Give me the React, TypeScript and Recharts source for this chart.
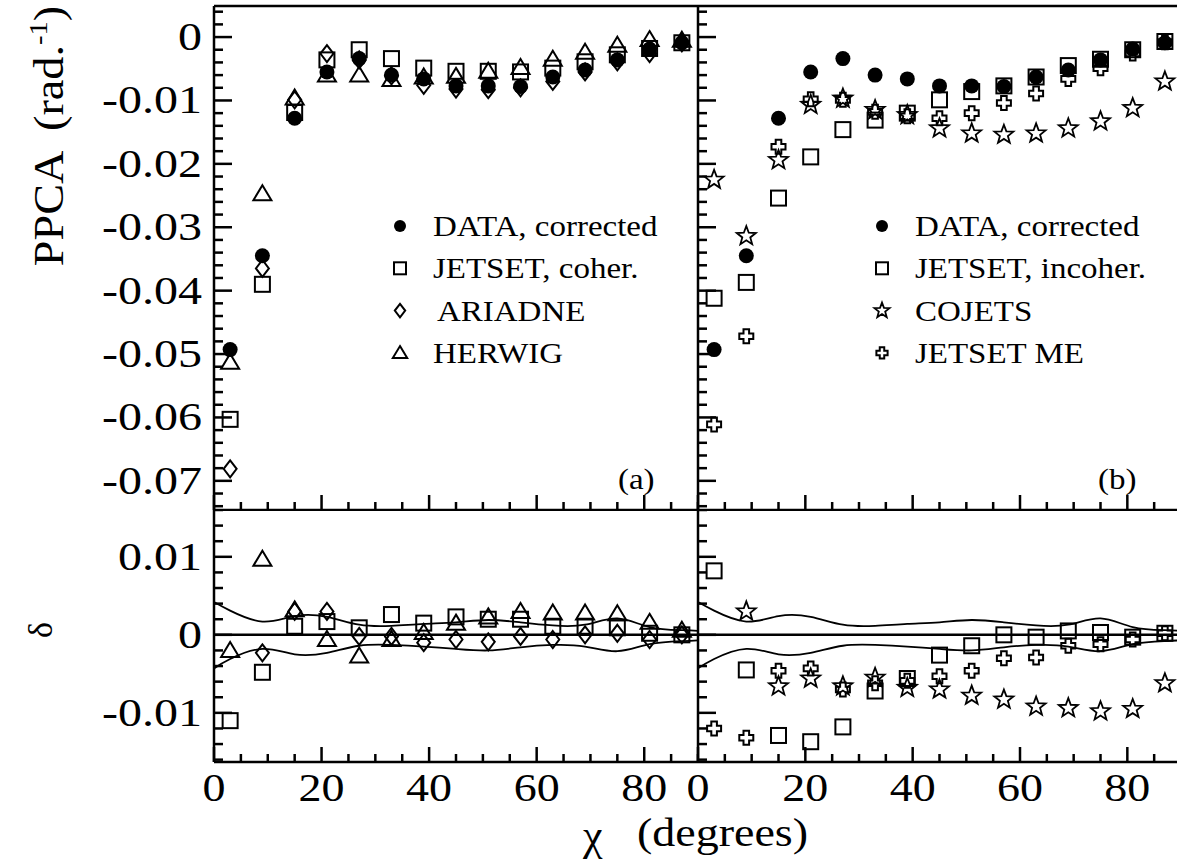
import React from "react";
import { ComposedChart, Scatter, Line, XAxis, YAxis, ReferenceLine, Legend } from "recharts";

// bin centres (degrees)
const chi = [3, 9, 15, 21, 27, 33, 39, 45, 51, 57, 63, 69, 75, 81, 87];

// PPCA values
const dataCorrected = [-0.0493, -0.0345, -0.0128, -0.0055, -0.0034, -0.006, -0.0066, -0.0077, -0.0077, -0.0078, -0.0063, -0.0052, -0.0036, -0.0019, -0.0009];
const jetsetCoher = [-0.0603, -0.039, -0.0119, -0.0036, -0.002, -0.0034, -0.0049, -0.0054, -0.0054, -0.0055, -0.0049, -0.0039, -0.0028, -0.0018, -0.0009];
const ariadne = [-0.0681, -0.0365, -0.0099, -0.0026, -0.0036, -0.0061, -0.0076, -0.0082, -0.0083, -0.008, -0.007, -0.0055, -0.0039, -0.0026, -0.0009];
const herwig = [-0.0513, -0.0247, -0.0096, -0.006, -0.006, -0.0067, -0.0063, -0.0062, -0.0054, -0.0048, -0.0035, -0.0024, -0.0013, -0.0004, -0.0005];
const jetsetIncoher = [-0.0412, -0.0387, -0.0254, -0.0189, -0.0146, -0.0131, -0.012, -0.0099, -0.0086, -0.0077, -0.0063, -0.0045, -0.0035, -0.002, -0.0007];
const cojets = [-0.0225, -0.0314, -0.0194, -0.0107, -0.0097, -0.0115, -0.0123, -0.0144, -0.0152, -0.0154, -0.0152, -0.0144, -0.0133, -0.0112, -0.007];
const jetsetME = [-0.0611, -0.0472, -0.0173, -0.0098, -0.0099, -0.0118, -0.0125, -0.0128, -0.012, -0.0104, -0.0089, -0.0066, -0.0049, -0.0026, -0.0008];

// delta = model - data (null = off scale)
const dJetsetCoher = [-0.011, -0.0048, 0.0011, 0.0017, 0.0009, 0.0026, 0.0015, 0.0023, 0.002, 0.002, 0.0011, 0.0011, 0.0009, 0.0002, 0.0];
const dAriadne = [null, -0.0023, 0.003, 0.003, -0.0002, -0.0002, -0.001, -0.0006, -0.0009, -0.0002, -0.0006, 0.0, 0.0002, -0.0006, 0.0];
const dHerwig = [-0.002, 0.0097, 0.0032, -0.0006, -0.0027, -0.0006, 0.0003, 0.0015, 0.0023, 0.003, 0.0028, 0.0028, 0.0027, 0.0016, 0.0006];
const dJetsetIncoher = [0.0082, -0.0045, -0.0129, -0.0137, -0.0118, -0.0072, -0.0056, -0.0026, -0.0014, 0.0, -0.0003, 0.0005, 0.0003, -0.0003, 0.0002];
const dCojets = [null, 0.003, -0.0066, -0.0056, -0.0066, -0.0055, -0.0068, -0.007, -0.0078, -0.0083, -0.0092, -0.0094, -0.0098, -0.0095, -0.0062];
const dJetsetME = [-0.012, -0.0132, -0.0046, -0.0043, -0.007, -0.0062, -0.0059, -0.0053, -0.0046, -0.003, -0.0029, -0.0014, -0.0012, -0.0006, 0.0002];

// error band of the data
const bandChi = [0, 3, 9, 15, 21, 27, 33, 39, 45, 51, 57, 63, 69, 75, 81, 87, 90];
const bandUpper = [0.0042, 0.0031, 0.0017, 0.0024, 0.0023, 0.0013, 0.00115, 0.0014, 0.0016, 0.0019, 0.0016, 0.0012, 0.0013, 0.0021, 0.001, 0.0006, 0.0005];
const bandLower = [-0.0043, -0.0031, -0.0018, -0.0025, -0.0023, -0.0014, -0.0013, -0.0015, -0.0018, -0.002, -0.0016, -0.0013, -0.0015, -0.0021, -0.0012, -0.0008, -0.0007];

// ticks
const xTicks = [0, 5, 10, 15, 20, 25, 30, 35, 40, 45, 50, 55, 60, 65, 70, 75, 80, 85, 90];
const xLabels = [0, 20, 40, 60, 80];
const ppcaTicks = [0.004, 0.002, 0, -0.002, -0.004, -0.006, -0.008, -0.01, -0.012, -0.014, -0.016, -0.018, -0.02, -0.022, -0.024, -0.026, -0.028, -0.03, -0.032, -0.034, -0.036, -0.038, -0.04, -0.042, -0.044, -0.046, -0.048, -0.05, -0.052, -0.054, -0.056, -0.058, -0.06, -0.062, -0.064, -0.066, -0.068, -0.07, -0.072, -0.074];
const ppcaLabels = [0, -0.01, -0.02, -0.03, -0.04, -0.05, -0.06, -0.07];
const deltaTicks = [0.016, 0.014, 0.012, 0.01, 0.008, 0.006, 0.004, 0.002, 0, -0.002, -0.004, -0.006, -0.008, -0.01, -0.012, -0.014, -0.016];
const deltaLabels = [0.01, 0, -0.01];

const seriesA = [
  { name: "DATA, corrected", kind: "circle", ppca: dataCorrected, delta: null },
  { name: "JETSET, coher.", kind: "square", ppca: jetsetCoher, delta: dJetsetCoher },
  { name: "ARIADNE", kind: "diamond", ppca: ariadne, delta: dAriadne },
  { name: "HERWIG", kind: "triangle", ppca: herwig, delta: dHerwig },
];
const seriesB = [
  { name: "DATA, corrected", kind: "circle", ppca: dataCorrected, delta: null },
  { name: "JETSET, incoher.", kind: "square", ppca: jetsetIncoher, delta: dJetsetIncoher },
  { name: "COJETS", kind: "star", ppca: cojets, delta: dCojets },
  { name: "JETSET ME", kind: "cross", ppca: jetsetME, delta: dJetsetME },
];

const FONT = "'Liberation Serif', 'Times New Roman', serif";
const AX = { stroke: "#000", strokeWidth: 2.5 };

const toPoints = (vals) =>
  chi.map((x, i) => ({ x, y: vals[i] })).filter((d) => d.y !== null && d.y !== undefined);
const band = {
  upper: bandChi.map((x, i) => ({ x, y: bandUpper[i] })),
  lower: bandChi.map((x, i) => ({ x, y: bandLower[i] })),
};

const isIn = (arr, v) => arr.some((a) => Math.abs(a - v) < 1e-9);

function SText({ x, y, size, sx = 1.15, anchor = "start", rotate = 0, children }: any) {
  const t = `translate(${x},${y})${rotate ? ` rotate(${rotate})` : ""} scale(${sx},1)`;
  return (
    <text transform={t} fontSize={size} fontFamily={FONT} textAnchor={anchor} fill="#000">
      {children}
    </text>
  );
}

function starPoints(r1: number, r2: number) {
  const pts: string[] = [];
  for (let i = 0; i < 10; i++) {
    const r = i % 2 === 0 ? r1 : r2;
    const a = -Math.PI / 2 + (i * Math.PI) / 5;
    pts.push(`${(r * Math.cos(a)).toFixed(2)},${(r * Math.sin(a)).toFixed(2)}`);
  }
  return pts.join(" ");
}
const STAR = starPoints(10, 4.2);
const CROSS = "-2.8,-7 2.8,-7 2.8,-2.8 7,-2.8 7,2.8 2.8,2.8 2.8,7 -2.8,7 -2.8,2.8 -7,2.8 -7,-2.8 -2.8,-2.8";

function Marker({ kind, cx, cy, s = 1 }: any) {
  if (cx == null || cy == null) return null;
  const common = { fill: "none", stroke: "#000", strokeWidth: 2 / s };
  let el: any = null;
  if (kind === "circle") el = <circle r={7.5} fill="#000" />;
  else if (kind === "square") el = <rect x={-7.5} y={-7.5} width={15} height={15} {...common} />;
  else if (kind === "diamond") el = <polygon points="0,-8.5 6.5,0 0,8.5 -6.5,0" {...common} />;
  else if (kind === "triangle") el = <polygon points="0,-8.5 9,6.5 -9,6.5" {...common} />;
  else if (kind === "star") el = <polygon points={STAR} {...common} strokeWidth={1.8 / s} />;
  else if (kind === "cross") el = <polygon points={CROSS} {...common} />;
  return <g transform={`translate(${cx},${cy}) scale(${s})`}>{el}</g>;
}

function XTick({ x, y, payload, showLabel }: any) {
  const v = payload.value;
  const major = isIn(xLabels, v);
  return (
    <g>
      <line x1={x} x2={x} y1={y} y2={y - (major ? 15 : 8)} stroke="#000" strokeWidth={2.5} />
      {showLabel && major && (
        <SText x={x} y={y + 39} size={40} anchor="middle">
          {String(v)}
        </SText>
      )}
    </g>
  );
}

function YTick({ x, y, payload, labels, showLabel }: any) {
  const v = payload.value;
  const major = isIn(labels, v);
  return (
    <g>
      <line x1={x} x2={x + (major ? 18 : 9)} y1={y} y2={y} stroke="#000" strokeWidth={2.5} />
      {showLabel && major && (
        <SText x={x - 12} y={y + 13} size={40} sx={1.2} anchor="end">
          {String(v)}
        </SText>
      )}
    </g>
  );
}

// keeps the legend in the order the series are listed, not alphabetical
function LegendBox({ payload, items }: any) {
  const shown = new Set((payload || []).map((p: any) => p.value));
  const rows = items.filter((s) => shown.has(s.name));
  return (
    <svg width={320} height={180}>
      {rows.map((s: any, i: number) => {
        const cy = 26 + i * 42.3;
        return (
          <g key={s.name}>
            <Marker kind={s.kind} cx={20} cy={cy} s={0.8} />
            <SText x={s.kind === "diamond" ? 57 : 53} y={cy + 10} size={30} sx={1.1}>
              {s.name}
            </SText>
          </g>
        );
      })}
    </svg>
  );
}

function Panel(props: any) {
  const {
    left, top, width, height, yAxisWidth, marginTop, xAxisHeight, yDomain, yTicks, yLabels,
    showYLabels, showXLabels, items, withBand, topBorder, legendLeft, yTitle, valueKey,
  } = props;
  return (
    <div style={{ position: "absolute", left, top }}>
      <ComposedChart width={width} height={height} margin={{ top: marginTop, right: 0, bottom: 0, left: 0 }}>
        <XAxis
          type="number"
          dataKey="x"
          domain={[0, 90]}
          ticks={xTicks}
          interval={0}
          allowDataOverflow
          height={xAxisHeight}
          tickSize={0}
          tickMargin={0}
          axisLine={AX}
          tick={(p) => <XTick {...p} showLabel={showXLabels} />}
        />
        {topBorder && (
          <XAxis xAxisId="top" orientation="top" type="number" domain={[0, 90]} height={1} tick={false} tickLine={false} axisLine={AX} />
        )}
        <YAxis
          type="number"
          dataKey="y"
          domain={yDomain}
          ticks={yTicks}
          interval={0}
          allowDataOverflow
          width={yAxisWidth}
          tickSize={0}
          tickMargin={0}
          axisLine={AX}
          tick={(p) => <YTick {...p} labels={yLabels} showLabel={showYLabels} />}
          label={yTitle ? { content: yTitle } : undefined}
        />
        {withBand && <ReferenceLine y={0} stroke="#000" strokeWidth={2.5} />}
        {withBand && (
          <Line data={band.upper} dataKey="y" type="natural" stroke="#000" strokeWidth={1.8} dot={false} legendType="none" isAnimationActive={false} />
        )}
        {withBand && (
          <Line data={band.lower} dataKey="y" type="natural" stroke="#000" strokeWidth={1.8} dot={false} legendType="none" isAnimationActive={false} />
        )}
        {items
          .filter((s) => s[valueKey])
          .map((s) => (
            <Scatter
              key={s.name}
              name={s.name}
              data={toPoints(s[valueKey])}
              dataKey="y"
              isAnimationActive={false}
              shape={(p: any) => <Marker kind={s.kind} cx={p.cx} cy={p.cy} />}
            />
          ))}
        {legendLeft != null && (
          <Legend
            layout="vertical"
            align="center"
            verticalAlign="middle"
            wrapperStyle={{ left: legendLeft, top: 200, width: 320, height: 180 }}
            content={(p: any) => <LegendBox payload={p.payload} items={items} />}
          />
        )}
      </ComposedChart>
    </div>
  );
}

const ppcaTitle = () => (
  <text transform="translate(63,136) rotate(-90) scale(1.1,1)" fontSize={42} fontFamily={FONT} textAnchor="middle" fill="#000">
    <tspan>PPCA</tspan>
    <tspan dx={18}>(rad.</tspan>
    <tspan dy={-16} fontSize={26}>-1</tspan>
    <tspan dy={16}>)</tspan>
  </text>
);
const deltaTitle = () => (
  <SText x={52} y={120} size={34} sx={1} rotate={-90} anchor="middle">
    δ
  </SText>
);

export default function App() {
  const TOP_DOMAIN = [-0.0746, 0.0049];
  const BOT_DOMAIN = [-0.0163, 0.016];
  return (
    <div style={{ position: "fixed", left: 0, top: 0, width: 1177, height: 861, overflow: "hidden", background: "#fff" }}>
      <Panel
        left={0} top={0} width={698} height={511} yAxisWidth={214} marginTop={5} xAxisHeight={1}
        yDomain={TOP_DOMAIN} yTicks={ppcaTicks} yLabels={ppcaLabels} showYLabels showXLabels={false}
        items={seriesA} valueKey="ppca" topBorder legendLeft={380} yTitle={ppcaTitle}
      />
      <Panel
        left={688} top={0} width={493} height={511} yAxisWidth={10} marginTop={5} xAxisHeight={1}
        yDomain={TOP_DOMAIN} yTicks={ppcaTicks} yLabels={ppcaLabels} showYLabels={false} showXLabels={false}
        items={seriesB} valueKey="ppca" topBorder legendLeft={174}
      />
      <Panel
        left={0} top={510} width={698} height={351} yAxisWidth={214} marginTop={0} xAxisHeight={99}
        yDomain={BOT_DOMAIN} yTicks={deltaTicks} yLabels={deltaLabels} showYLabels showXLabels
        items={seriesA} valueKey="delta" withBand yTitle={deltaTitle}
      />
      <Panel
        left={688} top={510} width={493} height={351} yAxisWidth={10} marginTop={0} xAxisHeight={99}
        yDomain={BOT_DOMAIN} yTicks={deltaTicks} yLabels={deltaLabels} showYLabels={false} showXLabels
        items={seriesB} valueKey="delta" withBand
      />
      <svg width={1177} height={861} style={{ position: "absolute", left: 0, top: 0, pointerEvents: "none" }}>
        <SText x={583} y={850} size={44} sx={1}>χ</SText>
        <SText x={637} y={846} size={40} sx={1.15}>(degrees)</SText>
        <SText x={618} y={489} size={30} sx={1.1}>(a)</SText>
        <SText x={1098} y={489} size={30} sx={1.1}>(b)</SText>
      </svg>
    </div>
  );
}
